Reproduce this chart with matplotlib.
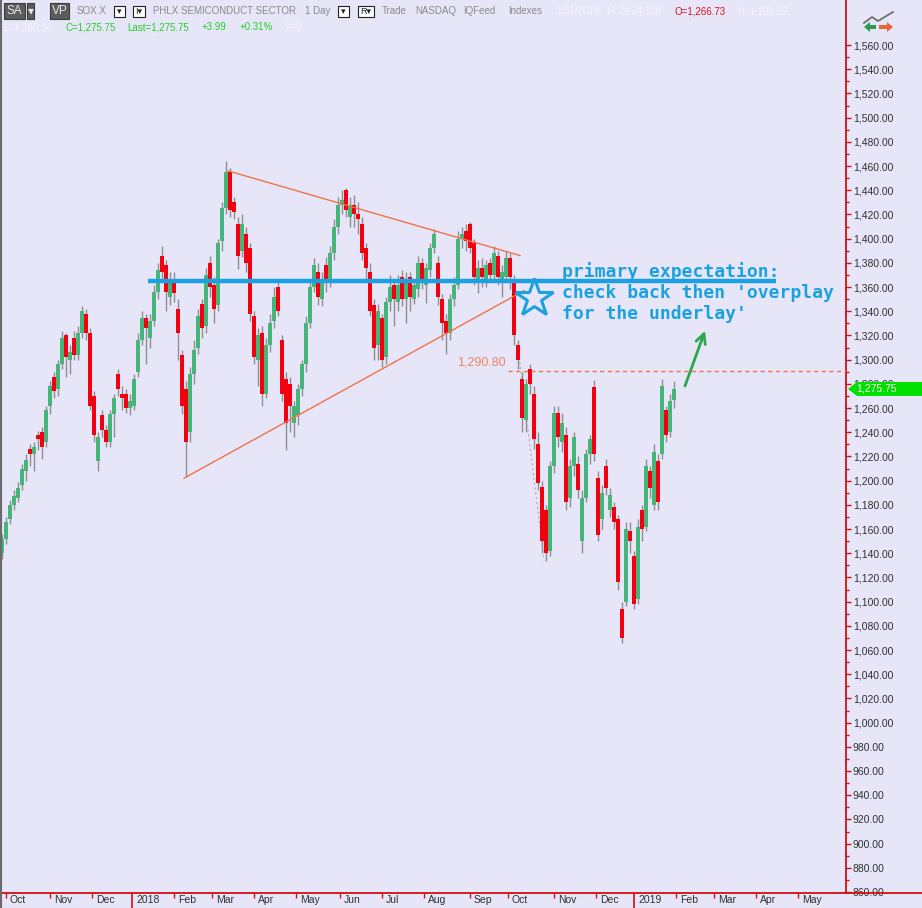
import numpy as np
import pandas as pd
import matplotlib
matplotlib.use('Agg')
import matplotlib.pyplot as plt
from matplotlib.patches import Rectangle, Polygon
from matplotlib.lines import Line2D
import matplotlib.transforms as mtransforms
from matplotlib.ticker import FixedLocator, FuncFormatter

# NYSE closures used to build the trading-day axis
holidays = ['2017-11-23', '2017-12-25', '2018-01-01', '2018-01-15', '2018-02-19',
            '2018-03-30', '2018-05-28', '2018-07-04', '2018-09-03', '2018-11-22',
            '2018-12-05', '2018-12-25', '2019-01-01', '2019-01-21', '2019-02-18',
            '2019-04-19', '2019-05-27']
first_day = '2017-09-27'
last_day = '2019-05-31'

# 2-day candles, SOX.X, Sep 2017 - Jan 31 2019
opens = [1140, 1152, 1168, 1180, 1186, 1196, 1208, 1226, 1222, 1238,
         1240, 1232, 1262, 1286, 1276, 1296, 1320, 1300, 1318, 1304,
         1322, 1338, 1322, 1270, 1216, 1254, 1242, 1232, 1255, 1288,
         1272, 1272, 1260, 1262, 1290, 1316, 1334, 1318, 1332, 1356,
         1386, 1378, 1352, 1366, 1342, 1304, 1276, 1240, 1288, 1310,
         1346, 1328, 1380, 1362, 1345, 1398, 1425, 1455, 1430, 1412,
         1390, 1404, 1392, 1336, 1300, 1322, 1272, 1312, 1332, 1360,
         1316, 1284, 1280, 1248, 1254, 1276, 1296, 1330, 1360, 1372,
         1350, 1378, 1366, 1388, 1410, 1428, 1440, 1418, 1428, 1420,
         1412, 1392, 1372, 1345, 1312, 1334, 1302, 1348, 1362, 1348,
         1368, 1350, 1368, 1350, 1358, 1380, 1362, 1374, 1392, 1380,
         1350, 1332, 1322, 1350, 1362, 1400, 1406, 1412, 1396, 1366,
         1376, 1366, 1380, 1370, 1386, 1364, 1368, 1384, 1366, 1312,
         1284, 1250, 1292, 1272, 1230, 1195, 1176, 1142, 1212, 1256,
         1232, 1238, 1186, 1212, 1214, 1150, 1186, 1222, 1277, 1202,
         1168, 1212, 1176, 1178, 1168, 1094, 1100, 1158, 1138, 1102,
         1176, 1162, 1208, 1180, 1216, 1222, 1258, 1240, 1266.73]
highs = [1156, 1170, 1184, 1192, 1199, 1214, 1222, 1230, 1232, 1241,
         1244, 1262, 1282, 1290, 1300, 1324, 1322, 1312, 1324, 1328,
         1344, 1342, 1326, 1274, 1240, 1258, 1246, 1258, 1272, 1292,
         1278, 1276, 1272, 1288, 1322, 1340, 1338, 1338, 1362, 1380,
         1394, 1382, 1372, 1372, 1350, 1308, 1282, 1294, 1316, 1342,
         1350, 1376, 1386, 1368, 1400, 1430, 1464, 1458, 1434, 1418,
         1420, 1410, 1396, 1340, 1326, 1328, 1318, 1338, 1360, 1364,
         1320, 1290, 1286, 1266, 1280, 1300, 1336, 1366, 1384, 1380,
         1372, 1385, 1394, 1416, 1434, 1440, 1442, 1434, 1436, 1430,
         1418, 1396, 1380, 1350, 1346, 1338, 1352, 1370, 1366, 1370,
         1374, 1372, 1372, 1366, 1386, 1384, 1380, 1396, 1408, 1386,
         1354, 1338, 1354, 1368, 1406, 1410, 1412, 1414, 1400, 1382,
         1384, 1382, 1384, 1394, 1390, 1378, 1390, 1388, 1370, 1316,
         1290, 1284, 1296, 1278, 1240, 1200, 1180, 1216, 1262, 1262,
         1256, 1244, 1218, 1240, 1220, 1192, 1226, 1238, 1283, 1208,
         1196, 1218, 1194, 1182, 1172, 1100, 1166, 1166, 1142, 1168,
         1180, 1218, 1212, 1230, 1222, 1284, 1262, 1272, 1282.69]
lows = [1135, 1148, 1164, 1176, 1182, 1192, 1200, 1212, 1208, 1225,
        1218, 1228, 1255, 1268, 1270, 1292, 1286, 1288, 1300, 1300,
        1318, 1316, 1258, 1232, 1208, 1236, 1228, 1228, 1236, 1270,
        1258, 1256, 1254, 1258, 1286, 1312, 1296, 1310, 1328, 1350,
        1366, 1340, 1345, 1348, 1300, 1255, 1203, 1232, 1280, 1305,
        1318, 1322, 1352, 1330, 1340, 1390, 1420, 1418, 1416, 1375,
        1385, 1372, 1332, 1296, 1278, 1262, 1268, 1306, 1326, 1336,
        1266, 1225, 1240, 1236, 1246, 1270, 1290, 1326, 1356, 1345,
        1344, 1356, 1360, 1382, 1404, 1420, 1418, 1410, 1410, 1404,
        1382, 1366, 1336, 1300, 1300, 1294, 1296, 1340, 1328, 1340,
        1344, 1330, 1340, 1346, 1352, 1358, 1347, 1368, 1388, 1345,
        1316, 1305, 1316, 1344, 1358, 1392, 1390, 1388, 1362, 1355,
        1360, 1360, 1364, 1366, 1362, 1352, 1364, 1358, 1312, 1292,
        1240, 1240, 1272, 1226, 1192, 1140, 1134, 1138, 1206, 1228,
        1224, 1176, 1178, 1204, 1186, 1140, 1182, 1214, 1216, 1150,
        1160, 1188, 1170, 1160, 1110, 1066, 1096, 1140, 1094, 1098,
        1150, 1158, 1186, 1176, 1176, 1218, 1232, 1236, 1260.34]
closes = [1152, 1166, 1180, 1187, 1194, 1210, 1217, 1222, 1228, 1234,
          1228, 1258, 1278, 1274, 1296, 1318, 1302, 1306, 1304, 1322,
          1340, 1322, 1262, 1238, 1236, 1242, 1232, 1255, 1268, 1276,
          1268, 1260, 1266, 1284, 1316, 1334, 1326, 1332, 1356, 1374,
          1372, 1356, 1366, 1355, 1322, 1262, 1232, 1288, 1308, 1336,
          1326, 1370, 1360, 1342, 1396, 1425, 1455, 1424, 1422, 1386,
          1412, 1380, 1338, 1302, 1320, 1272, 1312, 1330, 1352, 1340,
          1272, 1248, 1262, 1262, 1276, 1296, 1330, 1360, 1378, 1352,
          1366, 1366, 1388, 1410, 1428, 1432, 1424, 1428, 1420, 1416,
          1388, 1376, 1340, 1310, 1340, 1300, 1348, 1360, 1350, 1362,
          1350, 1366, 1352, 1362, 1380, 1366, 1376, 1392, 1404, 1352,
          1330, 1322, 1350, 1362, 1400, 1404, 1398, 1392, 1368, 1376,
          1368, 1378, 1370, 1388, 1368, 1372, 1384, 1368, 1320, 1300,
          1252, 1280, 1280, 1234, 1198, 1150, 1140, 1212, 1256, 1236,
          1248, 1182, 1212, 1236, 1192, 1186, 1222, 1234, 1222, 1155,
          1190, 1194, 1188, 1166, 1116, 1070, 1160, 1150, 1098, 1162,
          1160, 1212, 1194, 1224, 1182, 1278, 1238, 1266, 1275.75]

# drawn annotations (date, price)
upper_trend = [('2018-03-13', 1456), ('2018-10-09', 1386)]
lower_trend = [('2018-02-08', 1202), ('2018-10-11', 1357)]
gray_dots = [('2018-10-08', 1310), ('2018-10-25', 1134)]
blue_level = 1365
blue_span = ['2018-01-12', '2019-04-15']
star_at = ('2018-10-18', 1351)
note_at = ('2018-11-07', 1333.5)  # baseline of the last line
note_text = "primary expectation:\ncheck back then 'overplay\nfor the underlay'"
arrow_from = ('2019-02-07', 1276)
arrow_to = ('2019-02-25', 1326)
ref_level = 1290.80
ref_start = '2018-10-01'
last_price = 1275.75

BG = '#E6E6F8'
UP = '#45B57A'
DOWN = '#F2000F'
TREND = '#F07248'
BLUE = '#1BA1E2'

days = pd.bdate_range(first_day, last_day, freq='C', holidays=holidays)


def xi(d):
    return days.get_loc(pd.Timestamp(d))


fig = plt.figure(figsize=(9.22, 9.08), dpi=100, facecolor=BG)
W, H = 922, 908
ax = fig.add_axes([0, 15 / H, 846 / W, 893 / H], facecolor=BG)

o = np.array(opens, float)
c = np.array(closes, float)
hi = np.array(highs, float)
lo = np.array(lows, float)
cx = np.arange(1, 2 * len(c), 2)
colors = np.where(c >= o, UP, DOWN)

ax.vlines(cx, lo, hi, color='#8f8f8f', lw=1, zorder=2)
ax.bar(cx, np.maximum(np.abs(c - o), 1.5), bottom=np.minimum(o, c), width=1.7,
       color=colors, zorder=3)

# trend lines
for seg in (upper_trend, lower_trend):
    ax.plot([xi(d) for d, _ in seg], [p for _, p in seg], color=TREND, lw=1, zorder=4)
ax.plot([xi(d) for d, _ in gray_dots], [p for _, p in gray_dots], color='#b4b4b4',
        lw=1, ls=(0, (1.5, 2)), zorder=1)

ax.plot([xi(blue_span[0]), xi(blue_span[1])], [blue_level] * 2, color=BLUE, lw=3.2,
        solid_capstyle='butt', zorder=5)
ax.plot(xi(star_at[0]), star_at[1], marker='*', ms=29, mfc='none', mec=BLUE, mew=2.2,
        zorder=5)
ax.text(xi(note_at[0]), note_at[1], note_text, family='DejaVu Sans Mono',
        weight='bold', fontsize=13, color=BLUE, va='baseline', ha='left', zorder=6)
ax.annotate('', xy=(xi(arrow_to[0]), arrow_to[1]),
            xytext=(xi(arrow_from[0]), arrow_from[1]),
            arrowprops=dict(arrowstyle='->,head_length=0.7,head_width=0.35',
                            color='#2BA84A', lw=2))

xmax = 846 / 2.0
ax.hlines(ref_level, xi(ref_start), xmax, color=TREND, lw=1, ls=(0, (3, 2.5)), zorder=4)
ax.text(xi(ref_start) - 1, ref_level + 1.5, f'{ref_level:,.2f}', color='#F0845E',
        fontsize=9, family='Liberation Sans', ha='right', va='bottom')

ax.set_xlim(0, xmax)
px_per_unit = 1.2101
ax.set_ylim(1560 - (893 - 45) / px_per_unit, 1560 + 45 / px_per_unit)

# axes styling
for s in ('left', 'top'):
    ax.spines[s].set_visible(False)
for s in ('right', 'bottom'):
    ax.spines[s].set_color('#d01010')
    ax.spines[s].set_linewidth(1.3)

ax.yaxis.tick_right()
ax.yaxis.set_major_locator(FixedLocator(np.arange(860, 1561, 20)))
ax.yaxis.set_minor_locator(FixedLocator(np.arange(870, 1561, 20)))
ax.yaxis.set_major_formatter(FuncFormatter(lambda v, p: f'{v:,.2f}'))
ax.tick_params(axis='y', which='major', colors='#d01010', length=3.5, width=1,
               pad=1.5, labelsize=7.5, labelcolor='#303030')
ax.tick_params(axis='y', which='minor', colors='#d01010', length=2.2, width=1)
for lab in ax.get_yticklabels():
    lab.set_family('Liberation Sans')

ser = pd.Series(np.arange(len(days)), index=days)
firsts = ser.groupby([days.year, days.month]).first()
firsts = firsts[firsts > 0]
year_pos, year_lab, mon_pos, mon_lab = [], [], [], []
for (y, m), p in firsts.items():
    if m == 1:
        year_pos.append(p)
        year_lab.append(str(y))
    else:
        mon_pos.append(p)
        mon_lab.append(pd.Timestamp(year=y, month=m, day=1).strftime('%b'))
ax.set_xticks(year_pos, labels=year_lab)
ax.set_xticks(mon_pos, labels=mon_lab, minor=True)
ax.tick_params(axis='x', which='major', colors='#d01010', length=10.5, width=1.2,
               pad=-9.0, labelsize=7.5, labelcolor='#303030')
ax.tick_params(axis='x', which='minor', colors='#d01010', length=3.5, width=1,
               pad=-2.0, labelsize=7.5, labelcolor='#303030')
shift = mtransforms.ScaledTranslation(4 / 100, 0, fig.dpi_scale_trans)
for lab in ax.get_xticklabels(which='both'):
    lab.set_ha('left')
    lab.set_family('Liberation Sans')
    lab.set_transform(lab.get_transform() + shift)


def fx(x):
    return x / W


def fy(y):
    return 1 - y / H


# last price marker on the price scale
ly = fy(15 + (ax.get_ylim()[1] - last_price) * px_per_unit) * H
ly = H - (45 + (1560 - last_price) * px_per_unit)
fig.add_artist(Polygon([(fx(848), ly / H), (fx(857), (ly + 7) / H), (1, (ly + 7) / H),
                        (1, (ly - 7) / H), (fx(857), (ly - 7) / H)], closed=True,
                       transform=fig.transFigure, fc='#00E000', ec='none', zorder=10))
fig.text(fx(856), ly / H, f'{last_price:,.2f}', color='white', fontsize=7.5,
         family='Liberation Sans', va='center', ha='left', zorder=11)

# frame bits outside the axes
fig.add_artist(Line2D([846 / W, 1], [15 / H, 15 / H], color='#d01010', lw=1.3))
fig.add_artist(Line2D([0.6 / W, 0.6 / W], [0, 1], color='#6a6a6a', lw=1.5))

hdr = dict(family=['Liberation Sans', 'DejaVu Sans'], fontsize=7, va='center', ha='left')
GRAY = '#8a8a8a'
LIGHT = '#f6f6ff'
GREEN = '#22d022'

for x0, x1, txt in [(4, 25, 'SA'), (27, 34, '\u25be'), (50, 69, 'VP')]:
    fig.add_artist(Rectangle((fx(x0), fy(19)), fx(x1 - x0), 16 / H,
                             transform=fig.transFigure, fc='#5c5c5c', ec='#3c3c3c', lw=0.8))
    fig.text(fx((x0 + x1) / 2), fy(11), txt, color='#e8e8e8',
             **{**hdr, 'ha': 'center', 'fontsize': 8.5})
for x0, x1, txt in [(114, 125, '\u25be'), (133, 145, 'I\u25be'), (338, 349, '\u25be'),
                    (358, 374, 'R\u25be')]:
    fig.add_artist(Rectangle((fx(x0), fy(17)), fx(x1 - x0), 11 / H,
                             transform=fig.transFigure, fc='white', ec='#202020', lw=0.8))
    fig.text(fx((x0 + x1) / 2), fy(11.5), txt, color='#202020',
             **{**hdr, 'ha': 'center', 'fontsize': 6.5})

header1 = [(77, 'SOX.X', GRAY), (153, 'PHLX SEMICONDUCT SECTOR', GRAY), (305, '1 Day', GRAY),
           (382, 'Trade', GRAY), (415, 'NASDAQ', GRAY), (463, 'IQFeed', GRAY),
           (508, 'Indexes', GRAY), (556, '1/31/2019', LIGHT), (605, '14:24:24.138', LIGHT),
           (674, 'O=1,266.73', '#e01018'), (737, 'H=1,282.69', LIGHT)]
for x, txt, col in header1:
    fig.text(fx(x), fy(11), txt, color=col, **hdr)
header2 = [(3, 'L=1,260.34', LIGHT), (65, 'C=1,275.75', GREEN), (127, 'Last=1,275.75', GREEN),
           (202, '+3.99', GREEN), (240, '+0.31%', GREEN), (285, 'V=0', LIGHT)]
for x, txt, col in header2:
    fig.text(fx(x), fy(27), txt, color=col, **hdr)

# small chart icon, top right
fig.add_artist(Line2D([fx(864), fx(872), fx(878), fx(893)], [fy(23), fy(17), fy(21), fy(12)],
                      color='#707070', lw=1.3))
fig.add_artist(Polygon([(fx(864), fy(27)), (fx(870), fy(22)), (fx(870), fy(25)),
                        (fx(876), fy(25)), (fx(876), fy(29)), (fx(870), fy(29)),
                        (fx(870), fy(32))], closed=True, transform=fig.transFigure,
                       fc='#2e9a4e', ec='none'))
fig.add_artist(Polygon([(fx(893), fy(27)), (fx(887), fy(22)), (fx(887), fy(25)),
                        (fx(879), fy(25)), (fx(879), fy(29)), (fx(887), fy(29)),
                        (fx(887), fy(32))], closed=True, transform=fig.transFigure,
                       fc='#e8663a', ec='none'))

fig.savefig('out.png', dpi=100, facecolor=BG)
